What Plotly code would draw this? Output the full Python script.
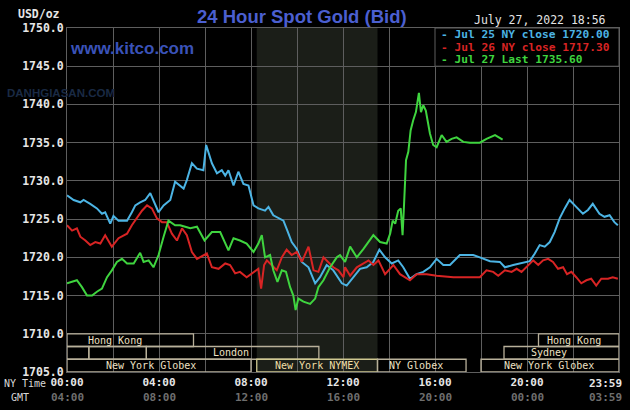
import plotly.graph_objects as go

# ---------------- data ----------------
hours_jul25 = [0, 0.29, 0.58, 0.72, 1.01, 1.30, 1.52, 1.66, 1.88, 2.02, 2.24, 2.61, 2.82, 2.97, 3.18, 3.40,
               3.62, 3.76, 3.98, 4.20, 4.49, 4.70, 5.07, 5.21, 5.43, 5.65, 5.93, 6.05, 6.30, 6.52, 6.73,
               6.88, 7.02, 7.24, 7.45, 7.67, 7.89, 8.11, 8.32, 8.61, 8.76, 8.97, 9.19, 9.41, 9.58, 9.77,
               9.99, 10.21, 10.50, 10.79, 11.00, 11.29, 11.58, 11.95, 12.16, 12.45, 12.74, 13.03, 13.32,
               13.58, 13.83, 14.12, 14.40, 14.62, 14.91, 15.20, 15.49, 15.78, 16.07, 16.36, 16.65, 17.08,
               17.66, 17.95, 18.39, 18.82, 19.04, 19.40, 19.83, 20.12, 20.34, 20.55, 20.77, 20.99, 21.20,
               21.42, 21.64, 21.85, 22.14, 22.43, 22.65, 22.86, 23.15, 23.37, 23.59, 23.80, 23.95]
price_jul25 = [1728.1, 1727.5, 1727.2, 1727.5, 1727.0, 1726.4, 1725.7, 1725.9, 1724.4, 1725.4, 1724.8, 1724.8,
               1725.9, 1726.8, 1727.2, 1727.5, 1728.4, 1727.5, 1725.9, 1726.8, 1727.5, 1729.9, 1729.0, 1730.1,
               1732.3, 1731.6, 1731.4, 1734.7, 1732.3, 1731.0, 1731.4, 1730.7, 1731.4, 1729.4, 1731.2, 1729.6,
               1729.4, 1726.8, 1726.4, 1726.1, 1726.6, 1725.5, 1725.1, 1724.8, 1723.5, 1722.0, 1721.1, 1719.4,
               1718.7, 1716.6, 1717.4, 1719.0, 1718.3, 1716.6, 1716.3, 1717.4, 1718.5, 1718.7, 1719.4, 1721.0,
               1720.0, 1719.2, 1719.6, 1718.7, 1717.2, 1717.8, 1718.1, 1718.7, 1719.8, 1719.0, 1719.0, 1720.3,
               1720.3, 1720.0, 1719.5, 1719.4, 1718.7, 1719.0, 1719.3, 1719.5, 1720.5, 1721.6, 1721.4, 1722.0,
               1723.3, 1725.1, 1726.4, 1727.5, 1726.6, 1725.7, 1726.2, 1727.0, 1725.7, 1725.3, 1725.5, 1724.6,
               1724.2]

hours_jul26 = [0, 0.22, 0.43, 0.58, 0.80, 1.01, 1.23, 1.45, 1.66, 1.95, 2.24, 2.61, 2.82, 3.04, 3.26, 3.48,
               3.69, 3.91, 4.13, 4.34, 4.56, 4.78, 5.00, 5.21, 5.43, 5.65, 5.93, 6.08, 6.30, 6.59, 6.88, 7.09,
               7.31, 7.52, 7.81, 8.11, 8.32, 8.44, 8.57, 8.69, 8.90, 9.12, 9.34, 9.55, 9.77, 9.99, 10.21,
               10.50, 10.72, 10.93, 11.15, 11.37, 11.58, 11.80, 12.02, 12.09, 12.31, 12.60, 12.89, 13.11,
               13.32, 13.54, 13.83, 14.19, 14.48, 14.91, 15.20, 15.64, 16.07, 16.80, 17.66, 17.95, 18.24,
               18.53, 18.75, 19.04, 19.33, 19.55, 19.76, 19.98, 20.27, 20.49, 20.70, 20.92, 21.13, 21.35,
               21.57, 21.74, 21.93, 22.14, 22.36, 22.58, 22.79, 23.01, 23.23, 23.52, 23.73, 23.95]
price_jul26 = [1724.2, 1723.5, 1723.8, 1722.7, 1722.2, 1721.6, 1722.0, 1721.8, 1722.9, 1721.4, 1722.5, 1723.1,
               1724.2, 1725.2, 1726.1, 1726.8, 1726.4, 1725.1, 1724.6, 1724.6, 1723.1, 1722.2, 1723.8, 1722.9,
               1720.7, 1719.8, 1720.3, 1720.5, 1718.7, 1718.5, 1719.2, 1719.0, 1717.9, 1718.1, 1717.4, 1718.1,
               1718.5, 1715.9, 1719.0, 1719.6, 1719.0, 1718.3, 1720.0, 1721.0, 1720.3, 1720.7, 1719.4, 1721.4,
               1718.3, 1718.1, 1720.0, 1719.4, 1718.7, 1718.3, 1717.4, 1718.7, 1717.6, 1718.7, 1719.2, 1719.6,
               1719.0, 1719.6, 1717.8, 1719.0, 1717.8, 1717.0, 1717.8, 1717.8, 1717.6, 1717.4, 1717.4, 1717.4,
               1718.3, 1718.1, 1717.6, 1718.3, 1718.1, 1718.5, 1718.1, 1718.7, 1719.6, 1719.0, 1719.6, 1719.8,
               1719.4, 1718.5, 1718.7, 1717.8, 1718.1, 1717.4, 1716.6, 1717.0, 1717.2, 1716.3, 1717.2, 1717.2,
               1717.4, 1717.2]

hours_jul27 = [0, 0.22, 0.43, 0.65, 0.87, 1.09, 1.30, 1.52, 1.74, 1.95, 2.17, 2.39, 2.61, 2.90, 3.18, 3.33,
               3.55, 3.76, 3.98, 4.20, 4.41, 4.70, 4.92, 5.14, 5.36, 5.65, 5.79, 5.98, 6.30, 6.66, 7.02, 7.24,
               7.52, 7.81, 8.11, 8.32, 8.47, 8.61, 8.83, 8.97, 9.15, 9.34, 9.52, 9.70, 9.84, 9.94, 10.06,
               10.28, 10.57, 10.79, 10.93, 11.15, 11.44, 11.73, 11.87, 12.09, 12.31, 12.60, 12.89, 13.32,
               13.61, 13.90, 14.05, 14.16, 14.27, 14.40, 14.51, 14.59, 14.65, 14.74, 14.84, 14.94, 15.05,
               15.17, 15.30, 15.39, 15.49, 15.60, 15.78, 15.92, 16.07, 16.29, 16.50, 16.72, 16.94, 17.23,
               17.52, 17.95, 18.24, 18.61, 18.94]
price_jul27 = [1716.6, 1716.8, 1717.0, 1716.1, 1715.0, 1715.0, 1715.5, 1715.9, 1717.4, 1718.3, 1719.4, 1719.8,
               1719.2, 1719.2, 1720.6, 1719.4, 1719.6, 1718.7, 1720.3, 1722.7, 1724.8, 1724.2, 1724.2, 1724.0,
               1723.8, 1724.0, 1723.3, 1722.2, 1723.3, 1723.3, 1720.9, 1722.5, 1722.2, 1721.8, 1720.7, 1721.8,
               1722.9, 1720.0, 1720.3, 1718.3, 1716.8, 1718.3, 1718.1, 1716.1, 1715.0, 1713.1, 1714.6, 1714.2,
               1713.9, 1714.6, 1716.1, 1717.0, 1718.7, 1720.0, 1720.3, 1719.4, 1721.4, 1720.0, 1721.1, 1722.9,
               1722.0, 1721.8, 1723.1, 1724.8, 1724.4, 1726.1, 1726.4, 1722.9, 1726.6, 1732.7, 1733.8, 1736.6,
               1737.9, 1739.0, 1741.5, 1739.0, 1739.9, 1739.2, 1736.2, 1734.7, 1734.4, 1736.0, 1735.1, 1735.5,
               1735.7, 1735.1, 1735.0, 1735.0, 1735.5, 1736.0, 1735.4]

legend_texts = ["- Jul 25 NY close 1720.00", "- Jul 26 NY close 1717.30", "- Jul 27 Last 1735.60"]

y_ticks = [1705, 1710, 1715, 1720, 1725, 1730, 1735, 1740, 1745, 1750]
x_grid_hours = [0, 2, 4, 6, 8, 10, 12, 14, 16, 18, 20, 22, 24]
ny_time_labels = ["00:00", "", "04:00", "", "08:00", "", "12:00", "", "16:00", "", "20:00", "", ""]
end_hour = 24
end_ny_label = "23:59"
gmt_hours = [0, 4, 8, 12, 16, 20]
gmt_labels = ["04:00", "08:00", "12:00", "16:00", "20:00", "00:00"]
end_gmt_label = "03:59"

# trading sessions (NY time hours)
sess_name = ["Hong Kong", "", "", "London", "New York Globex", "New York NYMEX", "NY Globex",
             "New York Globex", "Sydney", "Hong Kong"]
sess_start = [0, 0, 0.95, 3.45, 0, 8.25, 13.5, 18.0, 19.0, 20.5]
sess_end = [5.5, 0.95, 3.45, 10.95, 8.0, 13.5, 17.35, 24, 24, 24]
sess_row = [0, 1, 1, 1, 2, 2, 2, 2, 1, 0]
sess_label_at = [2.1, None, None, 7.15, 3.64, 10.88, 15.19, 20.95, 20.97, 22.04]
nymex_start, nymex_end = 8.25, 13.5

# ---------------- styling ----------------
BLUE = "#4cb4e4"
RED = "#d82424"
GREEN = "#3fd43f"
GRID = "#5e5e5e"
MONO = "DejaVu Sans Mono"
SESS_LINE = "#b8b09a"
SESS_TEXT = "#eee0c4"
NYMEX_LINE = "#cfc890"
NYMEX_TEXT = "#f0dfa6"
TICK_COL = "#e6e6e6"
GMT_COL = "#6e6e6e"

fig = go.Figure()
for hrs, vals, col in [(hours_jul25, price_jul25, BLUE),
                       (hours_jul26, price_jul26, RED),
                       (hours_jul27, price_jul27, GREEN)]:
    fig.add_trace(go.Scatter(x=hrs, y=vals, mode="lines",
                             line=dict(color=col, width=2), showlegend=False, hoverinfo="skip"))

shapes = []
# NYMEX shaded period
shapes.append(dict(type="rect", xref="x", yref="y", x0=nymex_start, x1=nymex_end, y0=1705, y1=1750,
                   fillcolor="#1b1e18", line=dict(width=0), layer="below"))
# legend box
shapes.append(dict(type="rect", xref="x", yref="y", x0=16, x1=24, y0=1745, y1=1750,
                   fillcolor="#000000", line=dict(color=GRID, width=1), layer="between"))

row_h = 5.0 / 3
annotations = []
for name, s, e, r, lab in zip(sess_name, sess_start, sess_end, sess_row, sess_label_at):
    y1 = 1710 - r * row_h
    y0 = y1 - row_h
    is_nymex = "NYMEX" in name
    shapes.append(dict(type="rect", xref="x", yref="y", x0=s, x1=e, y0=y0, y1=y1,
                       fillcolor="rgba(0,0,0,0)",
                       line=dict(color=NYMEX_LINE if is_nymex else SESS_LINE, width=1.3),
                       layer="between"))
    if name:
        annotations.append(dict(x=lab, y=(y0 + y1) / 2, xref="x", yref="y", text=name,
                                showarrow=False, xanchor="center", yanchor="middle",
                                font=dict(family=MONO, size=10,
                                          color=NYMEX_TEXT if is_nymex else SESS_TEXT)))

# legend texts
for i, (txt, col) in enumerate(zip(legend_texts, [BLUE, RED, GREEN])):
    annotations.append(dict(x=16, y=1750 - 0.85 - i * 1.65, xref="x", yref="y", text=txt,
                            showarrow=False, xanchor="left", yanchor="middle", xshift=4,
                            font=dict(family=MONO, size=11.2, color=col, weight="bold")))

# GMT labels
for h, g in zip(gmt_hours, gmt_labels):
    annotations.append(dict(x=h, y=0, xref="x", yref="paper", text=g, showarrow=False,
                            xanchor="center", yanchor="middle", yshift=-25,
                            font=dict(family=MONO, size=11, color=GMT_COL, weight="bold")))
# last (23:59) labels sit inside the right edge
annotations.append(dict(x=end_hour, y=0, xref="x", yref="paper", text=end_ny_label, showarrow=False,
                        xanchor="right", yanchor="middle", yshift=-11, xshift=5,
                        font=dict(family=MONO, size=11, color=TICK_COL, weight="bold")))
annotations.append(dict(x=end_hour, y=0, xref="x", yref="paper", text=end_gmt_label, showarrow=False,
                        xanchor="right", yanchor="middle", yshift=-25, xshift=5,
                        font=dict(family=MONO, size=11, color=GMT_COL, weight="bold")))

# misc texts
annotations += [
    dict(x=-0.118, y=0, xref="paper", yref="paper", text="NY Time", showarrow=False,
         xanchor="left", yanchor="middle", yshift=-11,
         font=dict(family=MONO, size=10, color="#d8d8d8")),
    dict(x=-0.086, y=0, xref="paper", yref="paper", text="GMT", showarrow=False,
         xanchor="center", yanchor="middle", yshift=-25,
         font=dict(family=MONO, size=10, color="#d8d8d8")),
    dict(x=-0.009, y=1, xref="paper", yref="paper", text="USD/oz", showarrow=False,
         xanchor="right", yanchor="middle", yshift=14,
         font=dict(family=MONO, size=11.5, color=TICK_COL, weight="bold")),
    dict(x=0.425, y=1, xref="paper", yref="paper", text="24 Hour Spot Gold (Bid)", showarrow=False,
         xanchor="center", yanchor="middle", yshift=12,
         font=dict(family="Liberation Sans", size=18.5, color="#4b5fd0", weight="bold")),
    dict(x=0.98, y=1, xref="paper", yref="paper", text="July 27, 2022 18:56", showarrow=False,
         xanchor="right", yanchor="middle", yshift=8,
         font=dict(family=MONO, size=11.5, color="#e4e4e4")),
    dict(x=0.002, y=1, xref="paper", yref="paper", text="www.kitco.com", showarrow=False,
         xanchor="left", yanchor="middle", yshift=-20,
         font=dict(family="Liberation Sans", size=17, color="#3a52b8", weight="bold")),
    dict(x=-0.112, y=0.811, xref="paper", yref="paper", text="DANHGIASAN.COM", showarrow=False,
         xanchor="left", yanchor="middle",
         font=dict(family="Liberation Sans", size=11.5, color="#1a2a44", weight="bold")),
]

fig.update_layout(
    width=630, height=410,
    margin=dict(l=67, r=11, t=28, b=38, autoexpand=False),
    paper_bgcolor="#000000", plot_bgcolor="#000000",
    shapes=shapes, annotations=annotations, showlegend=False,
    xaxis=dict(range=[0, 24], tickvals=x_grid_hours, ticktext=ny_time_labels, automargin=False,
               showgrid=True, gridcolor=GRID, gridwidth=1, zeroline=False,
               showline=True, mirror=True, linecolor=GRID, linewidth=1, ticks="",
               tickfont=dict(family=MONO, size=11, color=TICK_COL, weight="bold")),
    yaxis=dict(range=[1705, 1750], tickvals=y_ticks, tickformat=".1f", automargin=False,
               showgrid=True, gridcolor=GRID, gridwidth=1, zeroline=False,
               showline=True, mirror=True, linecolor=GRID, linewidth=1, ticks="",
               tickfont=dict(family=MONO, size=11.5, color=TICK_COL, weight="bold")),
)

fig.write_html("out.html", config={"displayModeBar": False},
               post_script="document.body.style.margin='0';document.body.style.background='#000';")
